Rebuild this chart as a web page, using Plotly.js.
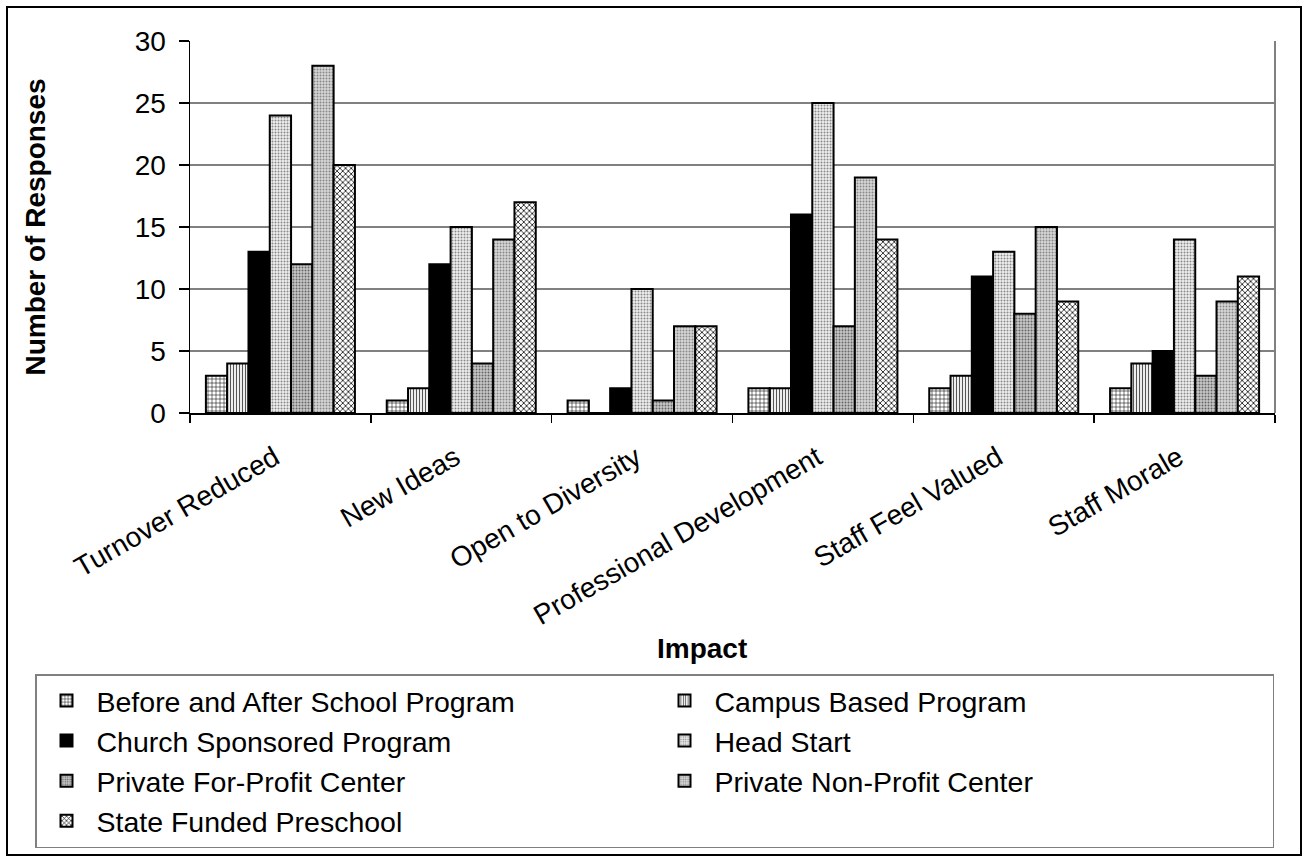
<!DOCTYPE html>
<html>
<head>
<meta charset="utf-8">
<script src="https://cdn.plot.ly/plotly-3.0.1.min.js"></script>
<style>html,body{margin:0;padding:0;background:#fff;}#chart{width:1308px;height:860px;}</style>
</head>
<body>
<div id="chart"></div>
<script>
var categories = ["Turnover Reduced", "New Ideas", "Open to Diversity", "Professional Development", "Staff Feel Valued", "Staff Morale"];
var seriesNames = ["Before and After School Program", "Campus Based Program", "Church Sponsored Program", "Head Start", "Private For-Profit Center", "Private Non-Profit Center", "State Funded Preschool"];
var beforeAfter = [3, 1, 1, 2, 2, 2];
var campusBased = [4, 2, 0, 2, 3, 4];
var churchSponsored = [13, 12, 2, 16, 11, 5];
var headStart = [24, 15, 10, 25, 13, 14];
var privateForProfit = [12, 4, 1, 7, 8, 3];
var privateNonProfit = [28, 14, 7, 19, 15, 9];
var stateFunded = [20, 17, 7, 14, 9, 11];
var yTicks = [0, 5, 10, 15, 20, 25, 30];

var seriesValues = [beforeAfter, campusBased, churchSponsored, headStart, privateForProfit, privateNonProfit, stateFunded];
var fills = [
  {color: "#ffffff", pattern: {shape: "+", fgcolor: "#000000", bgcolor: "#ffffff", size: 4, solidity: 0.25}},
  {color: "#ffffff", pattern: {shape: "|", fgcolor: "#555555", bgcolor: "#ffffff", size: 3, solidity: 0.4}},
  {color: "#000000", pattern: {shape: ""}},
  {color: "#ffffff", pattern: {shape: ".", fgcolor: "#888888", bgcolor: "#f0f0f0", size: 3, solidity: 0.35}},
  {color: "#ffffff", pattern: {shape: ".", fgcolor: "#666666", bgcolor: "#c8c8c8", size: 3, solidity: 0.35}},
  {color: "#ffffff", pattern: {shape: ".", fgcolor: "#888888", bgcolor: "#d8d8d8", size: 3, solidity: 0.35}},
  {color: "#ffffff", pattern: {shape: "x", fgcolor: "#000000", bgcolor: "#ffffff", size: 4, solidity: 0.35}}
];

var FONT = "Liberation Sans, Arial, sans-serif";
var traces = seriesNames.map(function (name, i) {
  var m = {color: fills[i].color, line: {color: "#000000", width: 2}};
  if (fills[i].pattern.shape) m.pattern = fills[i].pattern;
  return {type: "bar", name: name, x: categories, y: seriesValues[i], marker: m, hoverinfo: "x+y+name"};
});

var W = 1308, H = 860;
var layout = {
  width: W, height: H,
  paper_bgcolor: "#ffffff", plot_bgcolor: "#ffffff",
  margin: {l: 190, r: 33, t: 41, b: 447, autoexpand: false},
  barmode: "group", bargap: 0.176, bargroupgap: 0,
  font: {family: FONT, color: "#000000"},
  showlegend: true,
  xaxis: {
    type: "category", tickangle: -30, tickson: "boundaries",
    ticks: "outside", ticklen: 8, tickcolor: "#000000", tickwidth: 1.5,
    ticklabelstandoff: 16, ticklabelshift: -6,
    showline: true, linecolor: "#000000", linewidth: 1.5,
    showgrid: false, tickfont: {size: 28, family: FONT}, automargin: false
  },
  yaxis: {
    range: [0, 30], tickvals: yTicks, ticktext: yTicks.map(String),
    ticks: "outside", ticklen: 10, tickcolor: "#000000", tickwidth: 1.5,
    ticklabelstandoff: 7,
    showline: true, linecolor: "#000000", linewidth: 1.5,
    showgrid: true, gridcolor: "#808080", gridwidth: 2, zeroline: false,
    tickfont: {size: 28, family: FONT}, automargin: false,
    title: {text: "Number of Responses", font: {size: 28, family: FONT, weight: "bold"}, standoff: 81}
  },
  legend: {
    orientation: "h", xref: "paper", yref: "paper",
    x: (35 - 190) / 1085, xanchor: "left",
    y: (413 - 674) / 372, yanchor: "top",
    entrywidth: 553, entrywidthmode: "pixels", itemwidth: 50,
    bordercolor: "#808080", borderwidth: 1.5, bgcolor: "#ffffff",
    font: {size: 28.5, family: FONT}, traceorder: "normal"
  },
  annotations: [{
    text: "<b>Impact</b>", xref: "paper", yref: "paper",
    x: (702 - 190) / 1085, y: (413 - 648) / 372, xanchor: "center", yanchor: "middle",
    showarrow: false, font: {size: 28, family: FONT}
  }],
  shapes: [
    {type: "rect", xref: "paper", yref: "paper",
     x0: (7 - 190) / 1085, x1: (1301 - 190) / 1085, y0: (413 - 855) / 372, y1: (413 - 7) / 372,
     line: {color: "#000000", width: 2}, fillcolor: "rgba(0,0,0,0)", layer: "below"},
    {type: "line", xref: "x domain", yref: "y domain", x0: 1, x1: 1, y0: 0, y1: 1,
     line: {color: "#808080", width: 2}}
  ]
};

Plotly.newPlot("chart", traces, layout, {displayModeBar: false, staticPlot: true});
</script>
</body>
</html>
